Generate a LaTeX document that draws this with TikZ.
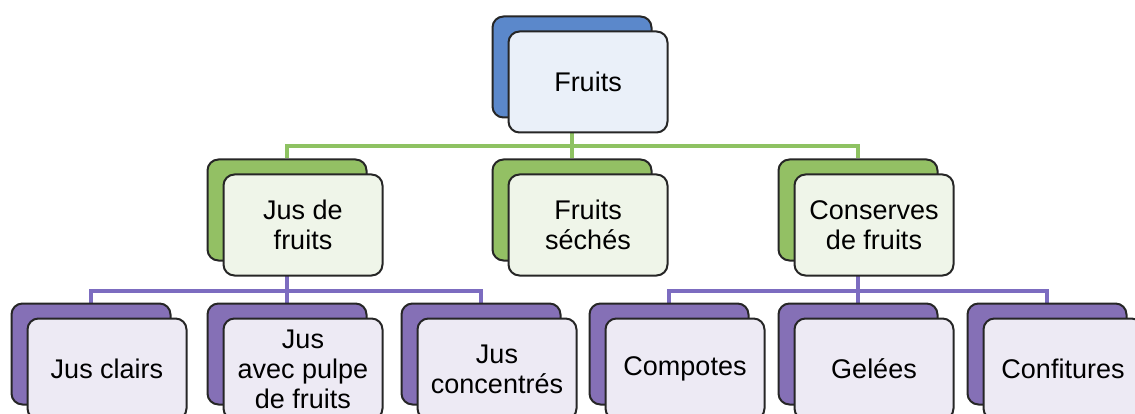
\documentclass[tikz,border=0pt]{standalone}
\usepackage{fontspec}
\setmainfont{Liberation Sans}
\usetikzlibrary{backgrounds}
\definecolor{topblue}{HTML}{5B88CB}
\definecolor{midgreen}{HTML}{93C064}
\definecolor{lowviolet}{HTML}{8570B6}
\definecolor{tintblue}{HTML}{EAF0F9}
\definecolor{tintgreen}{HTML}{EFF5E9}
\definecolor{tintviolet}{HTML}{EDEAF4}
\definecolor{greenbus}{HTML}{8EC262}
\definecolor{violetbus}{HTML}{7C6CC0}

\begin{document}
\begin{tikzpicture}[x=1pt,y=-1pt,
		box/.style={draw=black!85, line width=2pt, rounded corners=11pt, minimum width=159pt, minimum height=101pt, inner sep=0pt},
		backbox/.style={box, fill=#1},
		frontbox/.style={box, fill=#1, align=center, font=\fontsize{27}{30}\selectfont, xshift=16pt, yshift=-15pt},
		bus/.style={line width=4pt, draw=#1}]
			\useasboundingbox (0,0) rectangle (1135,414);
			% first level
			\node[backbox=topblue] (fruitsb) at (572,67) {};
			\node[frontbox=tintblue] (fruits) at (fruitsb) {Fruits};
			% second level
			\node[backbox=midgreen] (jusb) at (287,210) {};
			\node[frontbox=tintgreen] (jus) at (jusb) {Jus de\\fruits};
			\node[backbox=midgreen] (sechesb) at (572,210) {};
			\node[frontbox=tintgreen] (seches) at (sechesb) {Fruits\\séchés};
			\node[backbox=midgreen] (conservesb) at (858,210) {};
			\node[frontbox=tintgreen] (conserves) at (conservesb) {Conserves\\de fruits};
			% third level
			\node[backbox=lowviolet] (clairsb) at (91,354) {};
			\node[frontbox=tintviolet] (clairs) at (clairsb) {Jus clairs};
			\node[backbox=lowviolet] (pulpeb) at (287,354) {};
			\node[frontbox=tintviolet] (pulpe) at (pulpeb) {Jus\\avec pulpe\\de fruits};
			\node[backbox=lowviolet] (concentresb) at (481,354) {};
			\node[frontbox=tintviolet] (concentres) at (concentresb) {Jus\\concentrés};
			\node[backbox=lowviolet] (compotesb) at (669,354) {};
			\node[frontbox=tintviolet] (compotes) at (compotesb) {Compotes};
			\node[backbox=lowviolet] (geleesb) at (858,354) {};
			\node[frontbox=tintviolet] (gelees) at (geleesb) {Gelées};
			\node[backbox=lowviolet] (confituresb) at (1047,354) {};
			\node[frontbox=tintviolet] (confitures) at (confituresb) {Confitures};
			% connectors
			\coordinate (busone) at (572,146);
			\coordinate (bustwo) at (287,291);
			\coordinate (busthree) at (858,291);
			\begin{scope}[on background layer]
				\draw[bus=greenbus] (fruitsb.center) -- (busone);
				\draw[bus=greenbus] (busone) -| (jusb.north);
				\draw[bus=greenbus] (busone) -- (sechesb.north);
				\draw[bus=greenbus] (busone) -| (conservesb.north);
				\draw[bus=violetbus] (jusb.center) -- (bustwo);
				\draw[bus=violetbus] (bustwo) -| (clairsb.north);
				\draw[bus=violetbus] (bustwo) -- (pulpeb.north);
				\draw[bus=violetbus] (bustwo) -| (concentresb.north);
				\draw[bus=violetbus] (conservesb.center) -- (busthree);
				\draw[bus=violetbus] (busthree) -| (compotesb.north);
				\draw[bus=violetbus] (busthree) -- (geleesb.north);
				\draw[bus=violetbus] (busthree) -| (confituresb.north);
			\end{scope}
		\end{tikzpicture}
\end{document}
